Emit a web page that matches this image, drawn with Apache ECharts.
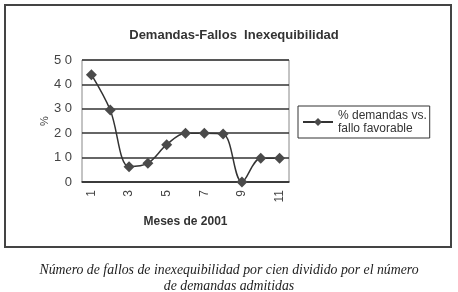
<!DOCTYPE html>
<html>
<head>
<meta charset="utf-8">
<script src="https://cdn.jsdelivr.net/npm/echarts@6/dist/echarts.min.js"></script>
<style>
  html, body { margin: 0; padding: 0; background: #fff; }
  #chart { width: 458px; height: 292px; }
</style>
</head>
<body>
<div id="chart"></div>
<script>
const months = ['1', '2', '3', '4', '5', '6', '7', '8', '9', '10', '11']
const pctValues = [44, 29.5, 6.3, 7.7, 15.3, 20, 20, 19.7, 0, 9.7, 9.7]
const seriesName = '% demandas vs.\nfallo favorable'

const chart = echarts.init(document.getElementById('chart'))

const option = {
  animation: false,
  backgroundColor: '#fff',
  title: [
    {
      text: 'Demandas-Fallos  Inexequibilidad',
      left: 229,
      top: 24,
      textAlign: 'center',
      textStyle: { fontFamily: 'Liberation Sans', fontSize: 13, fontWeight: 'bold', color: '#333' }
    },
    {
      text: 'Número de fallos de inexequibilidad por cien dividido por el número\nde demandas admitidas',
      left: 224,
      top: 257,
      textAlign: 'center',
      textStyle: { fontFamily: 'Liberation Serif', fontSize: 13.8, fontStyle: 'italic', fontWeight: 'normal', color: '#222', lineHeight: 16 }
    }
  ],
  graphic: [
    {
      type: 'rect',
      shape: { x: 5, y: 5, width: 446, height: 242 },
      style: { fill: 'none', stroke: '#444', lineWidth: 2 },
      silent: true
    },
    {
      type: 'rect',
      shape: { x: 82, y: 60, width: 207, height: 122 },
      style: { fill: 'none', stroke: '#888', lineWidth: 1 },
      silent: true
    }
  ],
  legend: {
    left: 298,
    top: 106,
    orient: 'vertical',
    data: [seriesName],
    itemWidth: 30,
    itemHeight: 10,
    itemGap: 0,
    padding: [3, 3, 3, 4],
    borderColor: '#333',
    borderWidth: 1,
    borderRadius: 0,
    textStyle: { fontFamily: 'Liberation Sans', fontSize: 12, color: '#333', lineHeight: 13 }
  },
  grid: { left: 82, right: 169, top: 60, bottom: 110 },
  xAxis: {
    type: 'category',
    data: months,
    boundaryGap: true,
    name: 'Meses de 2001',
    nameLocation: 'middle',
    nameGap: 34,
    nameTextStyle: { fontFamily: 'Liberation Sans', fontSize: 12, fontWeight: 'bold', color: '#333' },
    axisLine: { lineStyle: { color: '#333', width: 1.5 } },
    axisTick: { show: false },
    axisLabel: {
      interval: 1,
      rotate: 90,
      margin: 8,
      fontFamily: 'Liberation Sans',
      fontSize: 12,
      color: '#444'
    }
  },
  yAxis: {
    type: 'value',
    min: 0,
    max: 50,
    interval: 10,
    name: '%',
    nameLocation: 'middle',
    nameGap: 28,
    nameRotate: 90,
    nameTextStyle: { fontFamily: 'Liberation Sans', fontSize: 11, color: '#444' },
    axisLine: { show: false },
    axisTick: { show: false },
    splitLine: { lineStyle: { color: '#333', width: 1.5 } },
    axisLabel: {
      margin: 10,
      fontFamily: 'Liberation Sans',
      fontSize: 13,
      color: '#444',
      formatter: v => String(v).split('').join(' ')
    }
  },
  series: [
    {
      name: seriesName,
      type: 'line',
      data: pctValues,
      smooth: 0.35,
      symbol: 'diamond',
      symbolSize: 11,
      itemStyle: { color: '#4a4a4a' },
      lineStyle: { color: '#333', width: 1.5 }
    }
  ]
}

chart.setOption(option)
</script>
</body>
</html>
